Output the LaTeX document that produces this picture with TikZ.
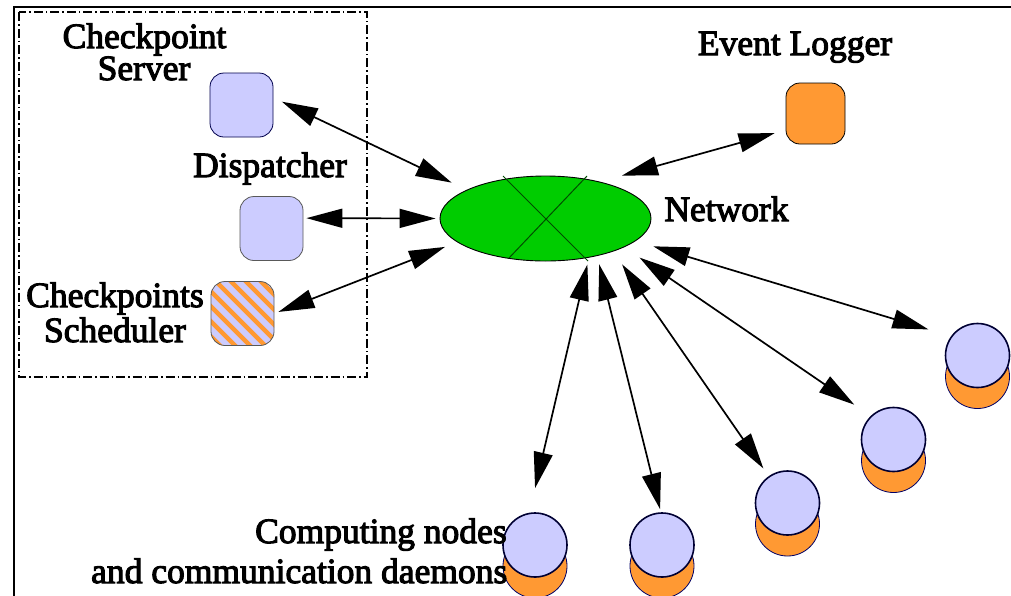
\documentclass[tikz,border=0pt]{standalone}
\usepackage{fontspec}
\setmainfont[FakeBold=3]{Liberation Serif}
\usetikzlibrary{arrows.meta,calc,shapes.geometric}
\definecolor{lav}{HTML}{CCCCFF}
\definecolor{orng}{HTML}{FF9933}
\definecolor{grn}{HTML}{00CC00}
\definecolor{navy}{HTML}{000033}
\begin{document}
\begin{tikzpicture}[x=1pt,y=-1pt,
  lbl/.style={font=\fontsize{35.5}{36}\selectfont, inner sep=0pt, anchor=base},
  sqbox/.style={rectangle, rounded corners=14pt, minimum width=63pt, minimum height=64pt,
    inner sep=0pt, draw=#1, line width=0.8pt, fill=lav},
  cyltop/.style={circle, minimum size=64pt, inner sep=0pt, fill=lav, draw=navy, line width=1.6pt},
  cylbot/.style={circle, minimum size=64pt, inner sep=0pt, fill=orng, draw=blue!40!black, line width=0.8pt},
  biarrow/.style={{Triangle[length=36pt,width=19pt]}-{Triangle[length=36pt,width=19pt]}, line width=1.7pt},
  stripes/.style={path picture={
    \foreach \k in {-6,...,6}
      \draw[orng, line width=4.5pt] ($(path picture bounding box.north west)+(\k*15,-5)$) -- ++(90,90);}}
]
\useasboundingbox (0,0) rectangle (1011,595);
\clip (0,0) rectangle (1011,595);

% outer frame (only top and left visible)
\draw[line width=2pt] (14,600) -- (14,7) -- (1020,7);

% group frame
\draw[line width=1.2pt, dash pattern=on 9pt off 3pt on 1.5pt off 3pt] (19,12) rectangle (367,377);

% boxes
\node[sqbox=blue!30!black] (srv) at (241.5,105) {};
\node[sqbox=black!65] (disp) at (271.5,228.5) {};
\node[sqbox=black!65, stripes] (sched) at (242.5,313.5) {};
\node[sqbox=black, fill=orng, minimum width=59pt, minimum height=61pt] (logger) at (815.5,113.5) {};

% network
\node[ellipse, minimum width=211pt, minimum height=85pt, inner sep=0pt, fill=grn, draw=black, line width=0.9pt] (net) at (545.5,218.5) {};
\draw[green!30!black, line width=1pt] ($(net)+(-42.5,-42.5)$) -- ($(net)+(42.5,42.5)$);
\draw[green!30!black, line width=1pt] ($(net)+(41.5,-42.5)$) -- ($(net)+(-36.5,39.5)$);

% computing nodes
\node[cylbot] (c1b) at (535,566) {};
\node[cyltop] (c1) at (535,545) {};
\node[cylbot] (c2b) at (662,566) {};
\node[cyltop] (c2) at (662,545) {};
\node[cylbot] (c3b) at (787.5,524) {};
\node[cyltop] (c3) at (787.5,503) {};
\node[cylbot] (c4b) at (893.5,460.5) {};
\node[cyltop] (c4) at (893.5,439.5) {};
\node[cylbot] (c5b) at (977.5,376.5) {};
\node[cyltop] (c5) at (977.5,355.5) {};

% connectors
\draw[biarrow, shorten <=9.4pt, shorten >=16.6pt] (srv.13) -- (net.160);
\draw[biarrow, shorten <=3pt, shorten >=4pt] (disp.18) -- (net.180);
\draw[biarrow, shorten <=4.3pt, shorten >=13pt] (sched.0) -- (net.195);
\draw[biarrow, shorten <=22.7pt, shorten >=11.4pt] (net.34) -- (logger.209);
\draw[biarrow, shorten <=7pt, shorten >=25.2pt] (net.318) -- (c1.100);
\draw[biarrow, shorten <=8.6pt, shorten >=3.1pt] (net.324) -- (c2.92);
\draw[biarrow, shorten <=15.6pt, shorten >=9.3pt] (net.334) -- (c3.125);
\draw[biarrow, shorten <=18.4pt, shorten >=19.9pt] (net.340) -- (c4.134);
\draw[biarrow, shorten <=18.3pt, shorten >=23.5pt] (net.346) -- (c5.144);

% labels
\node[lbl] (tcs1) at (144.5,48) {Checkpoint};
\node[lbl] (tcs2) at (144,80) {Server};
\node[lbl] (tdisp) at (270,177) {Dispatcher};
\node[lbl] (tsch1) at (115,307) {Checkpoints};
\node[lbl] (tsch2) at (115,342) {Scheduler};
\node[lbl] (tlog) at (795,55) {Event Logger};
\node[lbl] (tnet) at (726.5,221) {Network};
\node[lbl, anchor=base west] (tcn1) at (255,543) {Computing nodes};
\node[lbl, anchor=base west] (tcn2) at (91,583) {and communication daemons};
\end{tikzpicture}
\end{document}
